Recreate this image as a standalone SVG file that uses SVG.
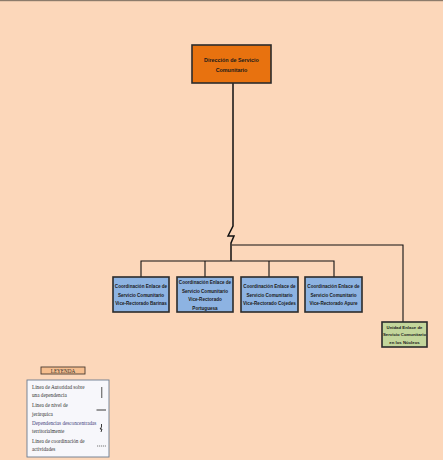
<svg xmlns="http://www.w3.org/2000/svg" width="443" height="460" viewBox="0 0 443 460">
<style>
.bg{fill:#FCD7BA}
.box{stroke:#2b2b2b;stroke-width:1.6}
.org{fill:#E8720F}
.blue{fill:#8DB3E2}
.green{fill:#C3D69B}
.t{font-family:"Liberation Sans Narrow","Liberation Sans",Arial,sans-serif;fill:#1a1a1a;text-anchor:middle;font-weight:bold}
.c{fill:none;stroke:#111;stroke-width:1.1}
.leg{font-family:"Liberation Serif","Times New Roman",serif;font-size:5.2px;fill:#333}
</style>
<rect class="bg" x="0" y="0" width="443" height="460"/>
<rect x="0" y="0" width="443" height="1.2" fill="#8C7B6B"/>

<g id="connectors">
  <polyline class="c" style="stroke-width:1.5" points="233,83 233,226 228,236 234,236 231,243 231,261"/>
  <polyline class="c" points="141,277 141,261 334,261 334,277"/>
  <line class="c" x1="205" y1="261" x2="205" y2="277"/>
  <line class="c" x1="269" y1="261" x2="269" y2="277"/>
  <polyline class="c" points="232,245 403,245 403,322"/>
</g>

<g id="n-direccion">
  <rect class="box org" x="192" y="45" width="79" height="38"/>
  <text class="t" font-size="5.4" x="231.5" y="62">Dirección de Servicio</text>
  <text class="t" font-size="5.4" x="231.5" y="72">Comunitario</text>
</g>

<g id="n-barinas">
  <rect class="box blue" x="113" y="277" width="56" height="35"/>
  <text class="t" font-size="4.6" x="141" y="288">Coordinación  Enlace de</text>
  <text class="t" font-size="4.6" x="141" y="296.5">Servicio Comunitario</text>
  <text class="t" font-size="4.6" x="141" y="305">Vice-Rectorado Barinas</text>
</g>

<g id="n-portuguesa">
  <rect class="box blue" x="177" y="277" width="56" height="35"/>
  <text class="t" font-size="4.6" x="205" y="284">Coordinación  Enlace de</text>
  <text class="t" font-size="4.6" x="205" y="292.5">Servicio Comunitario</text>
  <text class="t" font-size="4.6" x="205" y="301">Vice-Rectorado</text>
  <text class="t" font-size="4.6" x="205" y="309.5">Portuguesa</text>
</g>

<g id="n-cojedes">
  <rect class="box blue" x="241" y="277" width="57" height="35"/>
  <text class="t" font-size="4.6" x="269.5" y="288">Coordinación  Enlace de</text>
  <text class="t" font-size="4.6" x="269.5" y="296.5">Servicio Comunitario</text>
  <text class="t" font-size="4.6" x="269.5" y="305">Vice-Rectorado Cojedes</text>
</g>

<g id="n-apure">
  <rect class="box blue" x="305" y="277" width="57" height="35"/>
  <text class="t" font-size="4.6" x="333.5" y="288">Coordinación  Enlace de</text>
  <text class="t" font-size="4.6" x="333.5" y="296.5">Servicio Comunitario</text>
  <text class="t" font-size="4.6" x="333.5" y="305">Vice-Rectorado Apure</text>
</g>

<g id="n-nucleos">
  <rect class="box green" x="382" y="322" width="45" height="25"/>
  <text class="t" font-size="4.3" x="404.5" y="328.5">Unidad Enlace de</text>
  <text class="t" font-size="4.3" x="404.5" y="336">Servicio Comunitario</text>
  <text class="t" font-size="4.3" x="404.5" y="343.5">en los Núcleos</text>
</g>

<g id="legend">
  <rect x="41" y="367" width="44" height="7" fill="#F6BE8E" stroke="#4a3a30" stroke-width="0.9"/>
  <text class="leg" x="63" y="372.5" text-anchor="middle" font-size="5">LEYENDA</text>
  <rect x="27" y="380" width="82" height="77" fill="#F7F7FB" stroke="#6B7A8F" stroke-width="0.9"/>
  <text class="leg" x="32" y="388.5">Línea de Autoridad sobre</text>
  <text class="leg" x="32" y="396.5">una dependencia</text>
  <text class="leg" x="32" y="407">Línea de nivel de</text>
  <text class="leg" x="32" y="415.5">jerárquica</text>
  <text class="leg" x="32" y="424.5" fill="#3d3d7a" style="fill:#3d3d7a">Dependencias desconcentradas</text>
  <text class="leg" x="32" y="432.5">territorialmente</text>
  <text class="leg" x="32" y="442.5">Línea de coordinación de</text>
  <text class="leg" x="32" y="450.5">actividades</text>
  <line x1="101.7" y1="387" x2="101.7" y2="398" stroke="#777" stroke-width="1.3"/>
  <line x1="96.5" y1="410" x2="106" y2="410" stroke="#222" stroke-width="0.9"/>
  <polyline points="101.5,424 101.5,427 100,429 102,429 101,432" fill="none" stroke="#222" stroke-width="0.9"/>
  <line x1="97" y1="446" x2="106" y2="446" stroke="#444" stroke-width="0.7" stroke-dasharray="1.2,0.8"/>
</g>
</svg>
